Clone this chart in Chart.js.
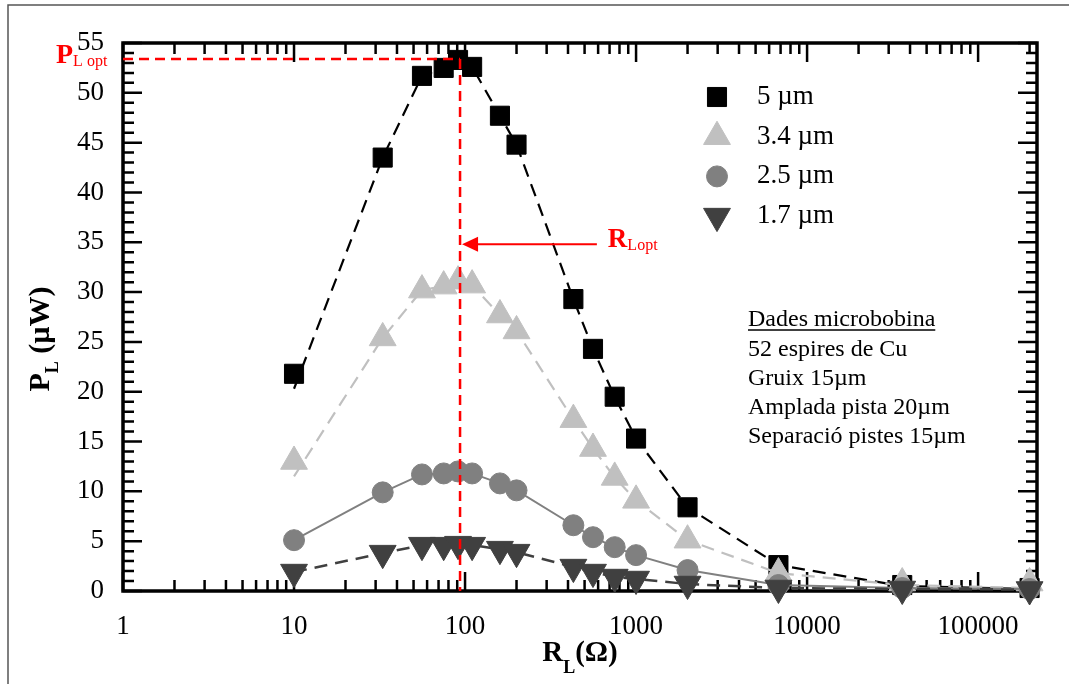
<!DOCTYPE html>
<html><head><meta charset="utf-8">
<script src="https://cdn.jsdelivr.net/npm/chart.js@4/dist/chart.umd.min.js"></script>
<style>html,body{margin:0;padding:0;background:#fff;overflow:hidden}#wrap{width:1069px;height:684px}</style>
</head><body><div id="wrap"><canvas id="c" width="1069" height="684"></canvas></div>
<script>
// ---- data ----
const resistances = [10, 33, 56, 75, 91, 110, 160, 200, 430, 560, 750, 1000, 2000, 6800, 36000, 200000];
const p5um     = [21.8, 43.5, 51.7, 52.5, 53.3, 52.6, 47.7, 44.8, 29.3, 24.3, 19.5, 15.3, 8.4, 2.6, 0.6, 0.3];
const p5umFit  = [20.3, 43.5, 51.7, 52.5, 53.3, 52.6, 47.7, 44.8, 29.3, 24.3, 19.5, 15.3, 8.4, 2.6, 0.5, 0.2];
const p34um    = [13.0, 25.4, 30.2, 30.6, 31.1, 30.7, 27.7, 26.1, 17.2, 14.3, 11.4, 9.1, 5.1, 1.8, 0.8, 0.8];
const p34umFit = [11.5, 25.4, 30.2, 30.6, 31.1, 30.7, 27.7, 26.1, 17.2, 14.3, 11.4, 9.1, 5.1, 1.8, 0.6, 0.3];
const p25um    = [5.1, 9.9, 11.7, 11.8, 12.0, 11.8, 10.8, 10.1, 6.6, 5.4, 4.4, 3.6, 2.1, 0.6, 0.3, 0.2];
const p17um    = [1.9, 3.8, 4.6, 4.6, 4.7, 4.6, 4.2, 3.9, 2.4, 1.9, 1.4, 1.2, 0.7, 0.3, 0.2, 0.15];
const seriesLabels = ['5 µm', '3.4 µm', '2.5 µm', '1.7 µm'];
const xMajorTicks = [1, 10, 100, 1000, 10000, 100000];
const xTickLabels = ['1', '10', '100', '1000', '10000', '100000'];
const yMajorTicks = [0, 5, 10, 15, 20, 25, 30, 35, 40, 45, 50, 55];
const infoLines = ['Dades microbobina', '52 espires de Cu', 'Gruix 15µm', 'Amplada pista 20µm', 'Separació pistes 15µm'];
const rLopt = 93.5;      // optimum load resistance (Ω)
const pLopt = 53.4;      // optimum power (µW)
const arrowLevel = 34.8; // µW level of the R_Lopt arrow
const arrowTail = 590;   // Ω where the arrow starts

const FONT = "'Liberation Serif','Times New Roman',serif";
const toPts = ys => resistances.map((x, i) => ({x: x, y: ys[i]}));

const legendStyles = [
  {pointStyle: 'rect', radius: 13.5, rotation: 0, color: '#000000'},
  {pointStyle: 'triangle', radius: 15.5, rotation: 0, color: '#c0c0c0'},
  {pointStyle: 'circle', radius: 10.5, rotation: 0, color: '#808080'},
  {pointStyle: 'triangle', radius: 15.5, rotation: 180, color: '#404040'}
];

function textRuns(ctx, runs, x, y, align) {
  let total = 0;
  runs.forEach(r => { ctx.font = r.font; r.w = ctx.measureText(r.t).width; total += r.w; });
  let cx = align === 'center' ? x - total / 2 : x;
  runs.forEach(r => { ctx.font = r.font; ctx.fillText(r.t, cx, y + (r.dy || 0)); cx += r.w; });
}

const decor = {
  id: 'decor',
  beforeDatasetsDraw(chart) {
    const ctx = chart.ctx, a = chart.chartArea, xs = chart.scales.x, ys = chart.scales.y;
    ctx.save();
    // outer border
    ctx.strokeStyle = '#555'; ctx.lineWidth = 1.5;
    ctx.beginPath(); ctx.moveTo(8, 684); ctx.lineTo(8, 5); ctx.lineTo(1069, 5); ctx.stroke();
    // ticks
    ctx.strokeStyle = '#000'; ctx.lineWidth = 2.5; ctx.lineCap = 'butt';
    const MAJ = 19, MIN = 11;
    ctx.beginPath();
    for (let v = 0; v <= 55; v++) {
      const y = ys.getPixelForValue(v);
      const L = (v % 5 === 0) ? MAJ : MIN;
      ctx.moveTo(a.left, y); ctx.lineTo(a.left + L, y);
      ctx.moveTo(a.right, y); ctx.lineTo(a.right - L, y);
    }
    xMajorTicks.forEach(d => {
      for (let m = 1; m <= 9; m++) {
        const v = d * m;
        if (v < xs.min || v > xs.max) continue;
        const x = xs.getPixelForValue(v);
        const L = m === 1 ? MAJ : MIN;
        ctx.moveTo(x, a.bottom); ctx.lineTo(x, a.bottom - L);
        ctx.moveTo(x, a.top); ctx.lineTo(x, a.top + L);
      }
    });
    ctx.stroke();
    // frame
    ctx.lineWidth = 3.5;
    ctx.strokeRect(a.left, a.top, a.right - a.left, a.bottom - a.top);
    ctx.restore();
  },
  afterDatasetsDraw(chart) {
    const ctx = chart.ctx, a = chart.chartArea, xs = chart.scales.x, ys = chart.scales.y;
    ctx.save();
    // red optimum lines
    const xr = xs.getPixelForValue(rLopt), yp = ys.getPixelForValue(pLopt);
    ctx.strokeStyle = '#ff0000'; ctx.lineWidth = 2.5; ctx.setLineDash([10, 6]);
    ctx.beginPath(); ctx.moveTo(a.left, yp); ctx.lineTo(xr, yp); ctx.stroke();
    ctx.beginPath(); ctx.moveTo(xr, yp); ctx.lineTo(xr, a.bottom); ctx.stroke();
    ctx.setLineDash([]);
    // arrow
    const ya = ys.getPixelForValue(arrowLevel), xt = xs.getPixelForValue(arrowTail);
    ctx.lineWidth = 2;
    ctx.beginPath(); ctx.moveTo(xt, ya); ctx.lineTo(xr + 14, ya); ctx.stroke();
    ctx.fillStyle = '#ff0000';
    ctx.beginPath(); ctx.moveTo(xr + 2, ya); ctx.lineTo(xr + 18, ya - 7.5); ctx.lineTo(xr + 18, ya + 7.5); ctx.closePath(); ctx.fill();
    // red labels
    ctx.textBaseline = 'alphabetic'; ctx.textAlign = 'left';
    textRuns(ctx, [{t: 'P', font: 'bold 28px ' + FONT}, {t: 'L opt', font: '16px ' + FONT, dy: 3}], 56, yp + 4, 'left');
    textRuns(ctx, [{t: 'R', font: 'bold 27px ' + FONT}, {t: 'Lopt', font: '16px ' + FONT, dy: 3}], xt + 11, ya + 3, 'left');
    // legend
    ctx.fillStyle = '#000'; ctx.textBaseline = 'middle';
    const lx = 717, tx = 757, ly0 = 97, dly = 39.7;
    legendStyles.forEach((s, i) => {
      const y = ly0 + i * dly;
      ctx.fillStyle = s.color; ctx.strokeStyle = s.color; ctx.lineWidth = 1;
      Chart.helpers.drawPoint(ctx, {pointStyle: s.pointStyle, radius: s.radius, rotation: s.rotation, borderWidth: 1}, lx, y);
      ctx.fillStyle = '#000'; ctx.font = '27px ' + FONT;
      ctx.fillText(seriesLabels[i], tx, y);
    });
    // info block
    ctx.font = '24px ' + FONT; ctx.fillStyle = '#000';
    const ix = 748, iy0 = 320, diy = 29.3;
    infoLines.forEach((t, i) => {
      const y = iy0 + i * diy;
      ctx.fillText(t, ix, y);
      if (i === 0) {
        const w = ctx.measureText(t).width;
        ctx.strokeStyle = '#000'; ctx.lineWidth = 1.5;
        ctx.beginPath(); ctx.moveTo(ix, y + 10); ctx.lineTo(ix + w, y + 10); ctx.stroke();
      }
    });
    // axis titles
    ctx.textBaseline = 'alphabetic'; ctx.fillStyle = '#000';
    textRuns(ctx, [{t: 'R', font: 'bold 29px ' + FONT}, {t: 'L', font: 'bold 18px ' + FONT, dy: 12}, {t: '(Ω)', font: 'bold 29px ' + FONT}],
      (a.left + a.right) / 2, 661, 'center');
    ctx.translate(49, (a.top + a.bottom) / 2 + 22);
    ctx.rotate(-Math.PI / 2);
    textRuns(ctx, [{t: 'P', font: 'bold 30px ' + FONT}, {t: 'L', font: 'bold 18px ' + FONT, dy: 9}, {t: ' (µW)', font: 'bold 30px ' + FONT}], 0, 0, 'center');
    ctx.restore();
  }
};

new Chart(document.getElementById('c'), {
  type: 'line',
  data: {
    datasets: [
      {label: seriesLabels[0] + ' fit', data: toPts(p5umFit), borderColor: '#000', borderWidth: 2.2, borderDash: [13, 8],
       pointRadius: 0, fill: false, order: 8, clip: false},
      {label: seriesLabels[0], data: toPts(p5um), showLine: false, pointStyle: 'rect', pointRadius: 13.5,
       backgroundColor: '#000', borderColor: '#000', pointBorderWidth: 1, order: 7, clip: false},
      {label: seriesLabels[1] + ' fit', data: toPts(p34umFit), borderColor: '#c0c0c0', borderWidth: 2.2, borderDash: [13, 8],
       pointRadius: 0, fill: false, order: 6, clip: false},
      {label: seriesLabels[1], data: toPts(p34um), showLine: false, pointStyle: 'triangle', pointRadius: 15.5,
       backgroundColor: '#c0c0c0', borderColor: '#c0c0c0', pointBorderWidth: 1, order: 5, clip: false},
      {label: seriesLabels[2], data: toPts(p25um), borderColor: '#808080', borderWidth: 2, pointStyle: 'circle', pointRadius: 10.5,
       backgroundColor: '#808080', pointBorderWidth: 1, fill: false, order: 3, clip: false},
      {label: seriesLabels[3], data: toPts(p17um), borderColor: '#404040', borderWidth: 2.5, borderDash: [13, 8],
       pointStyle: 'triangle', pointRotation: 180, pointRadius: 15.5, backgroundColor: '#404040', pointBorderWidth: 1,
       fill: false, order: 1, clip: false}
    ]
  },
  options: {
    responsive: false, animation: false, devicePixelRatio: 1,
    layout: {padding: {top: 43, right: 32, left: 0, bottom: 0}},
    plugins: {legend: {display: false}, tooltip: {enabled: false}},
    scales: {
      x: {
        type: 'logarithmic', position: 'bottom', min: 1, max: 221000,
        grid: {display: false, drawTicks: false}, border: {display: false},
        ticks: {font: {family: FONT, size: 27}, color: '#000', padding: 20, autoSkip: false, maxRotation: 0,
          callback: (v) => { const i = xMajorTicks.indexOf(v); return i >= 0 ? xTickLabels[i] : ''; }},
        afterBuildTicks: s => { s.ticks = xMajorTicks.map(v => ({value: v})); },
        afterFit: s => { s.height = 93; }
      },
      y: {
        min: 0, max: 55,
        grid: {display: false, drawTicks: false}, border: {display: false},
        ticks: {font: {family: FONT, size: 27}, color: '#000', padding: 19, autoSkip: false},
        afterBuildTicks: s => { s.ticks = yMajorTicks.map(v => ({value: v})); },
        afterFit: s => { s.width = 123; }
      }
    }
  },
  plugins: [decor]
});
</script>
</body></html>
